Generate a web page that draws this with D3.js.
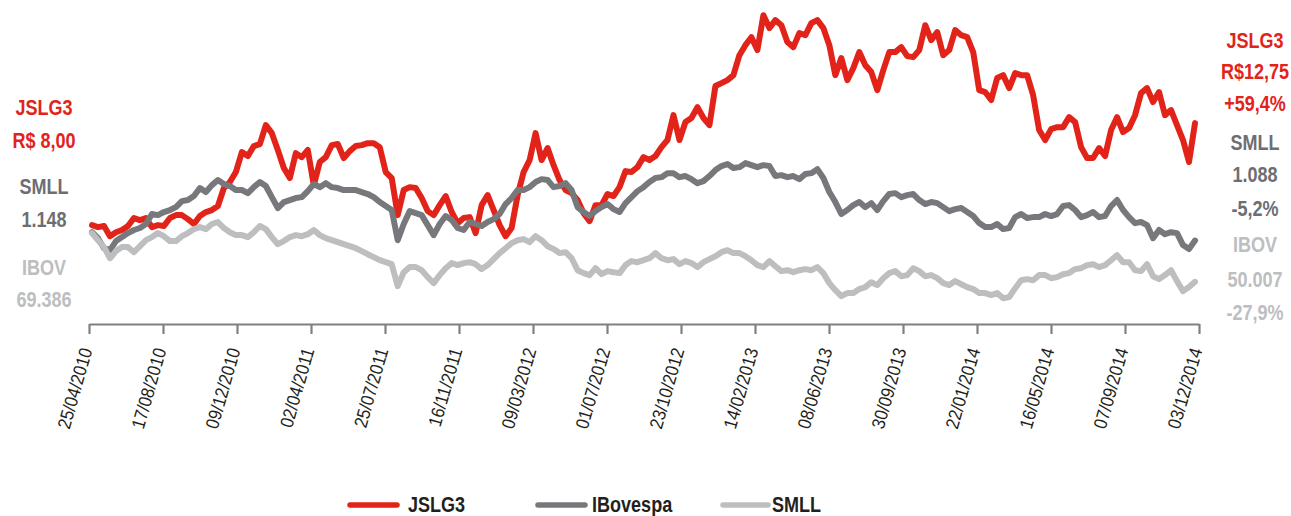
<!DOCTYPE html>
<html>
<head>
<meta charset="utf-8">
<script src="https://cdn.jsdelivr.net/npm/d3@7"></script>
<style>
html, body { margin: 0; padding: 0; background: #ffffff; }
svg { display: block; }
</style>
</head>
<body>
<svg id="chart"></svg>
<script>
// x axis tick labels
var tickLabels = ["25/04/2010", "17/08/2010", "09/12/2010", "02/04/2011", "25/07/2011", "16/11/2011",
	"09/03/2012", "01/07/2012", "23/10/2012", "14/02/2013", "08/06/2013", "30/09/2013",
	"22/01/2014", "16/05/2014", "07/09/2014", "03/12/2014"];

// variation since 25/04/2010 (%), sampled at regular intervals
var jslg3 = [3.3, 2.2, 2.8, -2.8, -0.6, 0.6, 2.8, 7.2, 6.1, 7.2,
	2.2, 3.3, 2.8, 7.2, 8.8, 8.8, 6.6, 3.9, 8.3, 10.5,
	11.6, 13.8, 23.7, 27, 32.5, 43.5, 41.3, 46.8, 47.9, 58.3,
	53.9, 44.6, 34.7, 29.2, 42.9, 40.7, 44.6, 25.3, 38, 40.7,
	47.3, 47.9, 40.2, 44, 46.8, 47.3, 48.4, 48.4, 46.2, 32.5,
	29.2, 8.8, 22.6, 24.2, 23.7, 18.2, 11, 8.8, 14.3, 19.3,
	10.5, 4.4, 7.2, 7.7, -1.1, 14.3, 19.8, 11.6, 3.3, -2.8,
	1.7, 19.8, 32.5, 39.1, 53.9, 39.1, 45.7, 36.3, 28.1, 22.6,
	20.9, 17.1, 9.9, 5.5, 14.3, 14.3, 20.4, 19.3, 24.2, 33,
	32.5, 35.2, 40.7, 39.1, 41.3, 46.2, 50.1, 63.8, 50.1, 60,
	62.2, 68.2, 62.2, 58.3, 79.8, 81.4, 83.1, 85.8, 96.8, 102.3,
	106.7, 99.6, 118.8, 111.7, 116.1, 113.3, 104, 101.2, 108.9, 107.8,
	114.4, 116.1, 111.7, 102.3, 85.8, 95.2, 83.1, 89.7, 98.5, 91.3,
	87.5, 77.6, 88.6, 98.5, 98.5, 101.2, 96.3, 95.7, 99.6, 113.3,
	105.1, 109.5, 96.8, 99.6, 110.6, 107.8, 106.7, 98.5, 77.6, 76.5,
	72.1, 84.2, 85.8, 78.7, 86.9, 85.8, 85.8, 74.8, 55.6, 50.1,
	56.1, 57.2, 57.2, 62.7, 60, 46.2, 40.2, 40.2, 45.7, 41.3,
	55.6, 62.7, 54.5, 56.7, 63.8, 75.9, 78.7, 71, 76.5, 63.8,
	66.6, 58.3, 50.1, 38, 59.4];

var ibovespa = [-0.6, -3.9, -9.4, -10.5, -5.5, -3.3, -1.1, 0.6, 1.7, 3.9,
	9.4, 8.8, 10.5, 11.6, 13.2, 16.5, 17.1, 19.3, 23.7, 21.5,
	25.3, 28.1, 25.9, 24.8, 22.6, 22.6, 20.9, 24.2, 27, 24.8,
	18.7, 12.7, 16, 17.1, 18.2, 18.7, 22, 25.9, 24.2, 26.4,
	24.2, 23.7, 22.6, 22.6, 22.6, 21.5, 20.4, 18.7, 16, 13.8,
	11.6, -5, 3.9, 11, 9.9, 8.8, 3.3, -2.2, 3.9, 8.3,
	6.1, 1.7, 0.6, 5, 3.9, 2.8, 5, 6.6, 9.4, 14.9,
	18.2, 22.6, 22.6, 24.2, 27, 28.6, 28.1, 24.2, 24.8, 26.4,
	22.6, 13.2, 10.5, 8.3, 11, 13.2, 14.9, 12.1, 10.5, 15.4,
	18.7, 22, 24.2, 27, 29.2, 29.7, 31.9, 31.9, 29.7, 30.3,
	28.6, 26.4, 27.5, 30.3, 33.6, 35.8, 36.9, 34.7, 35.2, 37.4,
	36.3, 35.2, 36.3, 35.8, 30.3, 30.8, 29.7, 30.3, 28.6, 31.4,
	31.9, 34.1, 29.2, 21.5, 16, 9.4, 11.6, 14.3, 16, 13.2,
	15.4, 11.6, 16.5, 20.4, 20.9, 18.7, 19.8, 20.4, 17.1, 14.9,
	16, 15.4, 13.2, 11, 12.1, 12.7, 10.5, 8.3, 4.4, 2.2,
	2.2, 3.9, 1.1, 1.7, 7.7, 9.4, 7.2, 7.7, 7.7, 9.4,
	8.3, 9.4, 13.8, 14.3, 11.6, 7.7, 8.8, 10.5, 7.7, 8.3,
	13.8, 17.1, 11.6, 7.7, 4.4, 5, 3.3, -3.9, 0.6, -1.7,
	-0.6, -1.1, -7.7, -9.9, -5.2];

var smll = [-1.1, -5, -8.8, -14.9, -11, -8.8, -8.8, -11.6, -8.3, -5,
	-3.3, -1.1, -2.8, -5.5, -5.5, -2.8, -1.1, 1.1, 2.2, 1.1,
	3.9, 5, 1.7, -0.6, -2.2, -2.2, -3.3, -0.6, 2.8, 1.1,
	-3.3, -7.2, -5.5, -3.3, -2.2, -2.8, -1.7, 0.6, -2.2, -3.9,
	-5, -6.1, -7.2, -8.3, -9.4, -11, -12.7, -14.3, -16, -17.1,
	-18.2, -30.3, -22.6, -19.8, -19.8, -21.5, -25.3, -28.6, -24.2, -20.4,
	-17.6, -18.7, -17.6, -17.1, -18.2, -20.9, -18.7, -15.4, -12.1, -9.4,
	-6.6, -5, -4.4, -6.1, -2.8, -5, -8.3, -9.9, -12.1, -11.6,
	-14.9, -21.5, -23.1, -24.2, -20.4, -23.7, -22, -22.6, -23.1, -18.7,
	-16.5, -17.1, -16, -14.9, -12.1, -14.9, -16, -15.4, -18.2, -16.5,
	-17.6, -19.8, -17.1, -15.4, -13.8, -11.6, -10.5, -12.1, -12.1, -13.8,
	-16, -18.7, -19.8, -16.5, -19.3, -22, -21.5, -22.6, -21.5, -20.9,
	-21.5, -19.8, -23.1, -28.6, -32.5, -35.8, -34.1, -34.1, -31.9, -30.8,
	-28.1, -29.7, -25.9, -23.1, -22, -24.8, -24.2, -20.4, -22, -24.8,
	-24.2, -25.9, -28.6, -29.7, -27.5, -29.2, -30.8, -31.9, -34.1, -34.1,
	-35.2, -34.1, -36.9, -36.3, -31.4, -27, -26.4, -27, -24.2, -24.2,
	-25.9, -25.3, -23.7, -23.1, -20.9, -20.4, -18.7, -18.2, -19.8, -18.7,
	-16, -13.2, -17.1, -17.1, -21.5, -22, -18.2, -24.8, -26.4, -24.2,
	-21.5, -27.5, -33, -30.8, -27.9];

var legendNames = ["JSLG3", "IBovespa", "SMLL"];
var startLabels = [["JSLG3", "R$ 8,00"], ["SMLL", "1.148"], ["IBOV", "69.386"]];
var endLabels = [["JSLG3", "R$12,75", "+59,4%"], ["SMLL", "1.088", "-5,2%"], ["IBOV", "50.007", "-27,9%"]];

/**
 * performance chart
 */
var performanceChartObj = {

	svg : null,

	colors : ["#e2231a", "#77787b", "#bcbec0"],

	textColors : ["#e2231a", "#6d6e71", "#bcbec0"],

	font : "'Liberation Sans', Arial, sans-serif",

	layout : {
		width : 1291,
		height : 516,
		lineLeft : 92,
		lineRight : 1195,
		axisLeft : 89,
		axisRight : 1199,
		axisY : 324,
		top : 13,
		bottom : 322,
		startX : 44,
		startY : [[115, 148], [194, 227], [275, 307]],
		endX : 1255,
		endY : [[48, 79, 111], [150, 182, 216], [252, 287, 320]],
		legendY : 505,
		legendText : 512,
		legendLines : [[350, 397], [538, 585], [723, 768]],
		legendTextX : [408, 592, 772]
	},

	init : function(id) {
		var that = this;
		that.svg = d3.select(id).attr("width", that.layout.width).attr("height", that.layout.height);
		that.y = d3.scaleLinear().domain([-50, 120]).range([that.layout.bottom, that.layout.top]);
	},

	draw : function() {
		var that = this;
		that.drawBg();
		that.drawAxis();
		that.drawSeries([jslg3, ibovespa, smll]);
		that.drawSideLabels();
		that.drawLegend();
	},

	drawBg : function() {
		var that = this;
		that.svg.append("rect").attr("width", that.layout.width).attr("height", that.layout.height).attr("fill", "#ffffff");
	},

	/**
	 * date axis
	 */
	drawAxis : function() {
		var that = this;
		var x = d3.scalePoint().domain(tickLabels).range([that.layout.axisLeft, that.layout.axisRight]);
		var g = that.svg.append("g")
			.attr("transform", "translate(0," + that.layout.axisY + ")")
			.call(d3.axisBottom(x).tickSize(10).tickSizeOuter(0));

		g.select(".domain").attr("stroke", "#808080").attr("stroke-width", 2.2);
		g.selectAll(".tick line").attr("stroke", "#808080").attr("stroke-width", 2.2);
		g.selectAll(".tick text")
			.attr("x", 0).attr("y", 0).attr("dy", 0)
			.attr("transform", "translate(3,26) rotate(-74) scale(0.9,1)")
			.attr("text-anchor", "end")
			.attr("fill", "#231f20")
			.attr("font-size", "18.5px")
			.attr("font-family", that.font);
	},

	drawSeries : function(list) {
		var that = this;
		for (var s = 0; s < list.length; s++) {
			var values = list[s];
			var x = d3.scaleLinear().domain([0, values.length - 1]).range([that.layout.lineLeft, that.layout.lineRight]);
			var line = d3.line()
				.x(function(d, i) { return x(i); })
				.y(function(d) { return that.y(d); });
			that.svg.append("path")
				.datum(values)
				.attr("d", line)
				.attr("fill", "none")
				.attr("stroke", that.colors[s])
				.attr("stroke-width", 6)
				.attr("stroke-linejoin", "round")
				.attr("stroke-linecap", "round");
		}
	},

	/**
	 * start / end values beside the lines
	 */
	drawSideLabels : function() {
		var that = this;
		for (var i = 0; i < startLabels.length; i++) {
			for (var j = 0; j < startLabels[i].length; j++) {
				that.drawText(that.layout.startX, that.layout.startY[i][j], startLabels[i][j], that.textColors[i], "middle");
			}
			for (var k = 0; k < endLabels[i].length; k++) {
				that.drawText(that.layout.endX, that.layout.endY[i][k], endLabels[i][k], that.textColors[i], "middle");
			}
		}
	},

	drawLegend : function() {
		var that = this;
		for (var i = 0; i < legendNames.length; i++) {
			that.svg.append("line")
				.attr("x1", that.layout.legendLines[i][0]).attr("x2", that.layout.legendLines[i][1])
				.attr("y1", that.layout.legendY).attr("y2", that.layout.legendY)
				.attr("stroke", that.colors[i]).attr("stroke-width", 5.5).attr("stroke-linecap", "round");
			that.drawText(that.layout.legendTextX[i], that.layout.legendText, legendNames[i], "#231f20", "start");
		}
	},

	/**
	 * bold condensed text (Liberation Sans squeezed horizontally)
	 */
	drawText : function(x, y, text, color, anchor) {
		var that = this;
		return that.svg.append("text")
			.attr("transform", "translate(" + x + "," + y + ") scale(0.82,1)")
			.attr("fill", color).attr("font-size", "22px").attr("font-weight", "bold")
			.attr("text-anchor", anchor).attr("font-family", that.font).text(text);
	}
};

performanceChartObj.init("#chart");
performanceChartObj.draw();
</script>
</body>
</html>
